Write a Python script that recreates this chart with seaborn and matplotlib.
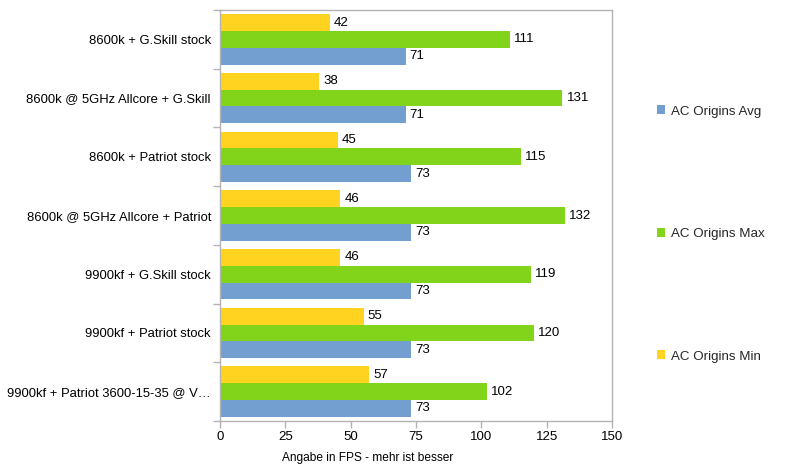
import matplotlib
matplotlib.use("Agg")
import matplotlib.pyplot as plt
import seaborn as sns
import pandas as pd
import numpy as np

categories = [
    "8600k + G.Skill stock",
    "8600k @ 5GHz Allcore + G.Skill",
    "8600k + Patriot stock",
    "8600k @ 5GHz Allcore + Patriot",
    "9900kf + G.Skill stock",
    "9900kf + Patriot stock",
    "9900kf + Patriot 3600-15-35 @ V…",
]
avg_vals = [71, 71, 73, 73, 73, 73, 73]
max_vals = [111, 131, 115, 132, 119, 120, 102]
min_vals = [42, 38, 45, 46, 46, 55, 57]
series = ["AC Origins Min", "AC Origins Max", "AC Origins Avg"]
colors = {"AC Origins Avg": "#729fcf", "AC Origins Max": "#81d41a", "AC Origins Min": "#ffd320"}
x_ticks = [0, 25, 50, 75, 100, 125, 150]
x_label = "Angabe in FPS - mehr ist besser"

rows = []
for i, c in enumerate(categories):
    rows.append((c, "AC Origins Min", min_vals[i]))
    rows.append((c, "AC Origins Max", max_vals[i]))
    rows.append((c, "AC Origins Avg", avg_vals[i]))
df = pd.DataFrame(rows, columns=["cat", "series", "value"])

sns.set_theme(style="white")
plt.rcParams['font.family'] = ['Liberation Sans', 'DejaVu Sans']

fig = plt.figure(figsize=(7.95, 4.69), dpi=100)
ax = fig.add_axes([220/795, 1 - 421/469, (612-220)/795, (421-10)/469])

sns.barplot(data=df, y="cat", x="value", hue="series", hue_order=series,
            order=categories, palette=colors, orient="h", width=0.86,
            saturation=1, ax=ax, legend=True, linewidth=0)

for cont in ax.containers:
    ax.bar_label(cont, padding=3, fontsize=9.5, color="#000000")

ax.set_xlim(0, 150)
ax.set_ylim(len(categories) - 0.5, -0.5)
ax.set_xticks(x_ticks)
ax.set_xticklabels([str(t) for t in x_ticks], fontsize=9.5, color="#000000")
ax.set_yticks(range(len(categories)))
ax.set_yticklabels(categories, fontsize=9.4, color="#000000")
ax.set_yticks(np.arange(-0.5, len(categories), 1.0), minor=True)
ax.tick_params(axis="y", which="major", length=0, pad=6.5)
ax.tick_params(axis="y", which="minor", length=5, color="#b3b3b3", width=1, direction="out", left=True)
ax.tick_params(axis="x", which="major", length=5, color="#b3b3b3", width=1, direction="out", bottom=True, pad=2)
ax.set_xlabel("")
ax.set_ylabel("")
fig.text(368/795, 1 - 458/469, x_label, fontsize=8.6, color="#000000", ha="center", va="center")
for s in ax.spines.values():
    s.set_color("#b3b3b3")
    s.set_linewidth(1)
ax.grid(False)

handles, labels = ax.get_legend_handles_labels()
ax.get_legend().remove()
order = [labels.index(l) for l in ["AC Origins Avg", "AC Origins Max", "AC Origins Min"]]
fig.legend([handles[i] for i in order], [labels[i] for i in order],
           loc="center left", bbox_to_anchor=(650/795, 1 - 234/469),
           frameon=False, fontsize=9.6, labelspacing=8.28, handlelength=0.65,
           handleheight=0.65, handletextpad=0.4, borderpad=0)

fig.savefig("out.png", dpi=100)
